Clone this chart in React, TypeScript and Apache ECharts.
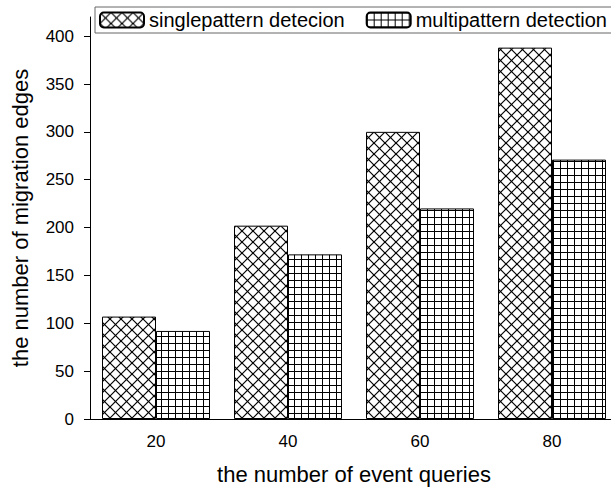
import React, { useEffect, useRef } from "react";
import * as echarts from "echarts";

const categories = ["20", "40", "60", "80"];
const singleValues = [107, 202, 300, 388];
const multiValues = [92, 172, 220, 271];
const yTicks = [0, 50, 100, 150, 200, 250, 300, 350, 400];
const seriesNames = ["singlepattern detecion", "multipattern detection"];

function makeCross(): HTMLCanvasElement {
  const p = 11;
  const c = document.createElement("canvas");
  c.width = p;
  c.height = p;
  const ctx = c.getContext("2d")!;
  ctx.fillStyle = "#fff";
  ctx.fillRect(0, 0, p, p);
  ctx.strokeStyle = "#000";
  ctx.lineWidth = 1.2;
  for (const o of [-p, 0, p]) {
    ctx.beginPath();
    ctx.moveTo(o, 0);
    ctx.lineTo(o + p, p);
    ctx.stroke();
    ctx.beginPath();
    ctx.moveTo(o + p, 0);
    ctx.lineTo(o, p);
    ctx.stroke();
  }
  return c;
}

function makeGrid(): HTMLCanvasElement {
  const p = 7;
  const c = document.createElement("canvas");
  c.width = p;
  c.height = p;
  const ctx = c.getContext("2d")!;
  ctx.fillStyle = "#fff";
  ctx.fillRect(0, 0, p, p);
  ctx.fillStyle = "#000";
  ctx.fillRect(0, 0, 1, p);
  ctx.fillRect(0, 0, p, 1);
  return c;
}

export default function App() {
  const ref = useRef<HTMLDivElement>(null);
  useEffect(() => {
    if (!ref.current) return;
    const chart = echarts.init(ref.current, undefined, { renderer: "svg" });
    const font = "'Liberation Sans', Arial, sans-serif";
    chart.setOption({
      animation: false,
      backgroundColor: "#fff",
      textStyle: { fontFamily: font, color: "#000" },
      legend: {
        left: 95,
        top: 7,
        width: 700,
        padding: [3, 14, 3, 4],
        itemGap: 21,
        itemWidth: 44,
        itemHeight: 15,
        borderColor: "#666",
        borderWidth: 1,
        data: seriesNames,
        textStyle: { fontSize: 20, color: "#000", fontFamily: font },
      },
      grid: {
        left: 90,
        width: 528,
        top: 17,
        height: 402,
        containLabel: false,
        outerBoundsMode: "none",
      },
      xAxis: {
        type: "category",
        data: categories,
        name: "the number of event queries",
        nameLocation: "middle",
        nameGap: 44,
        nameTextStyle: { fontSize: 22, color: "#000", fontFamily: font },
        axisLine: { lineStyle: { color: "#000", width: 1 } },
        axisTick: { alignWithLabel: true, length: 8, lineStyle: { color: "#000" } },
        axisLabel: { fontSize: 17, color: "#000", margin: 14, fontFamily: font },
        splitLine: { show: false },
      },
      yAxis: {
        type: "value",
        min: 0,
        max: 420,
        name: "the number of migration edges",
        nameLocation: "middle",
        nameGap: 59,
        nameTextStyle: { fontSize: 22, color: "#000", fontFamily: font },
        axisLine: { show: true, lineStyle: { color: "#000", width: 1 } },
        axisTick: { show: true, length: 6, customValues: yTicks, lineStyle: { color: "#000" } },
        axisLabel: { fontSize: 17, color: "#000", margin: 16, customValues: yTicks, fontFamily: font },
        splitLine: { show: false },
      },
      series: [
        {
          name: seriesNames[0],
          type: "bar",
          data: singleValues,
          barWidth: 54,
          barGap: "0%",
          itemStyle: {
            color: { image: makeCross(), repeat: "repeat" },
            borderColor: "#000",
            borderWidth: 1,
          },
        },
        {
          name: seriesNames[1],
          type: "bar",
          data: multiValues,
          barWidth: 54,
          barGap: "0%",
          itemStyle: {
            color: { image: makeGrid(), repeat: "repeat" },
            borderColor: "#000",
            borderWidth: 1,
          },
        },
      ],
    });
    return () => chart.dispose();
  }, []);
  return (
    <div
      ref={ref}
      style={{ position: "absolute", left: 0, top: 0, width: 611, height: 489 }}
    />
  );
}
